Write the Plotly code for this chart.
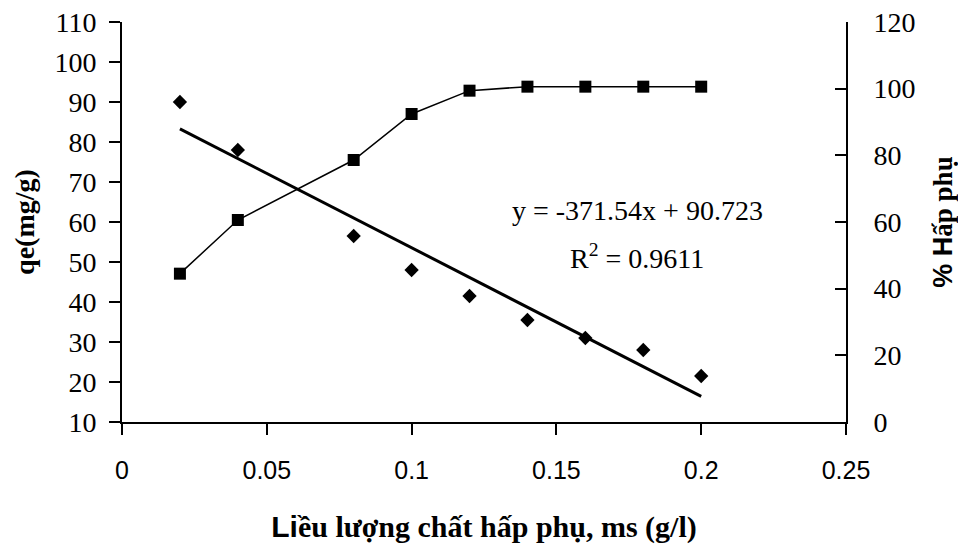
import plotly.graph_objects as go

# Data
dose = [0.02, 0.04, 0.08, 0.10, 0.12, 0.14, 0.16, 0.18, 0.20]
qe = [90.0, 78.0, 56.5, 48.0, 41.5, 35.5, 31.0, 28.0, 21.5]
pct = [44.5, 60.6, 78.6, 92.4, 99.4, 100.6, 100.6, 100.6, 100.6]
slope = -371.54
intercept = 90.723
r2 = 0.9611
x_ticks = [0, 0.05, 0.1, 0.15, 0.2, 0.25]
x_ticktext = ["0", "0.05", "0.1", "0.15", "0.2", "0.25"]

trend_x = [dose[0], dose[-1]]
trend_y = [slope * v + intercept for v in trend_x]

SERIF = "Liberation Serif, Times New Roman, serif"
SANS = "Liberation Sans, Arial, sans-serif"
NARROW = "Liberation Sans Narrow, Arial Narrow, Liberation Sans, sans-serif"

fig = go.Figure()
fig.add_trace(go.Scatter(x=dose, y=pct, mode="lines+markers", yaxis="y2",
                         line=dict(color="black", width=1.5),
                         marker=dict(symbol="square", size=12, color="black"),
                         showlegend=False))
fig.add_trace(go.Scatter(x=dose, y=qe, mode="markers",
                         marker=dict(symbol="diamond", size=11, color="black"),
                         showlegend=False))
fig.add_trace(go.Scatter(x=trend_x, y=trend_y, mode="lines",
                         line=dict(color="black", width=3),
                         showlegend=False))

fig.add_annotation(x=0.178, y=63, xref="x", yref="y", showarrow=False,
                   text=f"y = {slope}x + {intercept}",
                   font=dict(family=SERIF, size=28, color="black"))
fig.add_annotation(x=0.178, y=51.3, xref="x", yref="y", showarrow=False,
                   text=f"R<sup>2</sup> = {r2}",
                   font=dict(family=SERIF, size=28, color="black"))

# page has an 8px body margin, so the figure is sized/shifted to compensate
fig.update_layout(
    width=950, height=536,
    margin=dict(l=114, r=112, t=14, b=122),
    paper_bgcolor="white", plot_bgcolor="white",
    xaxis=dict(range=[0, 0.25], tickvals=x_ticks, ticktext=x_ticktext,
               showgrid=False, zeroline=False, showline=True, linecolor="black", linewidth=2,
               ticks="outside", ticklen=11, tickwidth=2, tickcolor="black",
               ticklabelstandoff=14, automargin=False,
               tickfont=dict(family=NARROW, size=25, color="black"),
               title=dict(text="<span style='font-family:Liberation Sans'>Li</span>ều lượng chất hấp phụ, ms (g/l)",
                          font=dict(family=SERIF, size=30, color="black", weight="bold"),
                          standoff=33)),
    yaxis=dict(range=[10, 110], dtick=10, showgrid=False, zeroline=False,
               showline=True, linecolor="black", linewidth=2,
               ticks="outside", ticklen=11, tickwidth=2, tickcolor="black",
               ticklabelstandoff=7, automargin=False, ticklabeloverflow="allow",
               tickfont=dict(family=SERIF, size=28, color="black"),
               title=dict(text="qe(mg/g)", font=dict(family=SERIF, size=28, color="black", weight="bold"),
                          standoff=12)),
    yaxis2=dict(range=[0, 120], dtick=20, overlaying="y", side="right",
                showgrid=False, zeroline=False, showline=True, linecolor="black", linewidth=2,
                ticks="inside", ticklen=11, tickwidth=2, tickcolor="black",
                ticklabelstandoff=20, automargin=False, ticklabeloverflow="allow",
                tickfont=dict(family=SERIF, size=28, color="black"),
                title=dict(text="<span style='font-family:Liberation Sans'>% H</span>ấp phụ",
                           font=dict(family=SERIF, size=27, color="black", weight="bold"),
                           standoff=20)),
)

fig.write_html("out.html")
